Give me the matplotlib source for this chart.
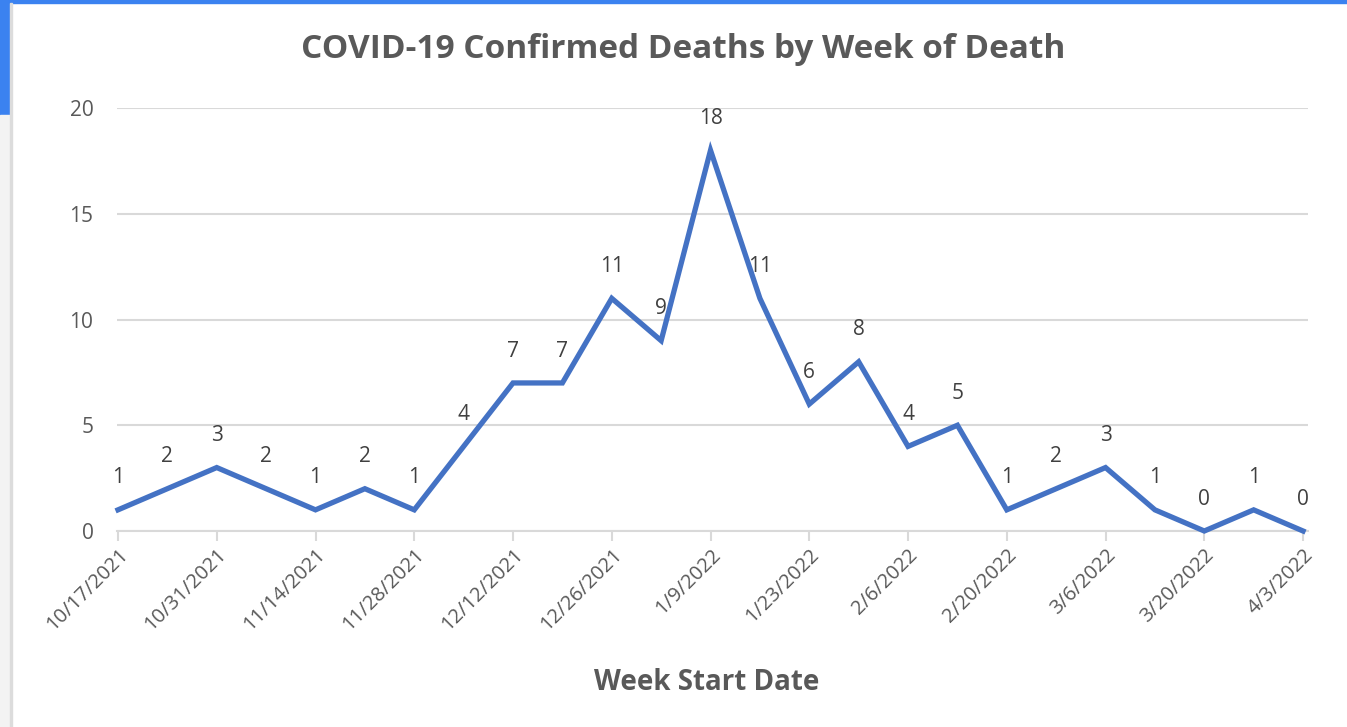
import matplotlib
matplotlib.use('Agg')
import matplotlib.pyplot as plt
from matplotlib.patches import Rectangle

# ── Data ──────────────────────────────────────────────────────────────────────
weeks = ['10/17/2021', '10/24/2021', '10/31/2021', '11/7/2021', '11/14/2021',
         '11/21/2021', '11/28/2021', '12/5/2021', '12/12/2021', '12/19/2021',
         '12/26/2021', '1/2/2022', '1/9/2022', '1/16/2022', '1/23/2022',
         '1/30/2022', '2/6/2022', '2/13/2022', '2/20/2022', '2/27/2022',
         '3/6/2022', '3/13/2022', '3/20/2022', '3/27/2022', '4/3/2022']
deaths = [1, 2, 3, 2, 1, 2, 1, 4, 7, 7, 11, 9, 18, 11, 6, 8, 4, 5, 1, 2, 3, 1, 0, 1, 0]

TITLE = 'COVID-19 Confirmed Deaths by Week of Death'
XLABEL = 'Week Start Date'

LINE_COLOR = '#4472C4'
TEXT_COLOR = '#595959'
LABEL_COLOR = '#404040'
GRID_COLOR = '#d9d9d9'

plt.rcParams['font.family'] = ['Open Sans', 'DejaVu Sans']

fig = plt.figure(figsize=(13.47, 7.27), dpi=100)

# screenshot frame bits (blue window edge at top/left)
fig.patches.append(Rectangle((0, 1 - 3 / 727), 1, 3 / 727, transform=fig.transFigure,
                             color='#3b82f0', zorder=0))
fig.patches.append(Rectangle((0, 1 - 115 / 727), 10 / 1347, 115 / 727, transform=fig.transFigure,
                             color='#3b82f0', zorder=0))
fig.patches.append(Rectangle((0, 0), 10 / 1347, 1 - 115 / 727, transform=fig.transFigure,
                             color='#f3f3f3', zorder=0))
fig.patches.append(Rectangle((10 / 1347, 0), 2 / 1347, 1 - 3 / 727, transform=fig.transFigure,
                             color='#dcdcdc', zorder=0))

ax = fig.add_axes([117 / 1347, 1 - 531 / 727, (1308 - 117) / 1347, (531 - 108) / 727])

x = list(range(len(deaths)))
ax.plot(x, deaths, color=LINE_COLOR, linewidth=3.8, solid_joinstyle='miter', zorder=3,
        clip_on=False)

for xi, v in zip(x, deaths):
    ax.annotate(str(v), (xi, v), xytext=(0, 23), textcoords='offset points',
                ha='center', va='center', fontsize=15, color=LABEL_COLOR)

ax.set_xlim(-0.02, 24.1)
ax.set_ylim(0, 20)
ax.set_yticks([0, 5, 10, 15, 20])
ax.yaxis.grid(True, color=GRID_COLOR, linewidth=1.5, zorder=0)
ax.set_axisbelow(True)

tick_pos = x[::2]
ax.set_xticks(tick_pos)
ax.set_xticklabels(weeks[::2], rotation=45, ha='right', rotation_mode='anchor',
                   fontsize=14.5, color=TEXT_COLOR)
ax.tick_params(axis='x', length=7, width=1.5, color=GRID_COLOR, pad=3)
ax.tick_params(axis='y', length=0, labelsize=15, labelcolor=TEXT_COLOR, pad=17)

for s in ['top', 'right', 'left']:
    ax.spines[s].set_visible(False)
ax.spines['bottom'].set_color(GRID_COLOR)
ax.spines['bottom'].set_linewidth(1.5)

fig.text(683 / 1347, 1 - 50 / 727, TITLE, ha='center', va='center',
         fontsize=24, fontweight='bold', color=TEXT_COLOR)
fig.text(707 / 1347, 1 - 682 / 727, XLABEL, ha='center', va='center',
         fontsize=20, fontweight='bold', color=TEXT_COLOR)

fig.savefig('out.png', dpi=100)
